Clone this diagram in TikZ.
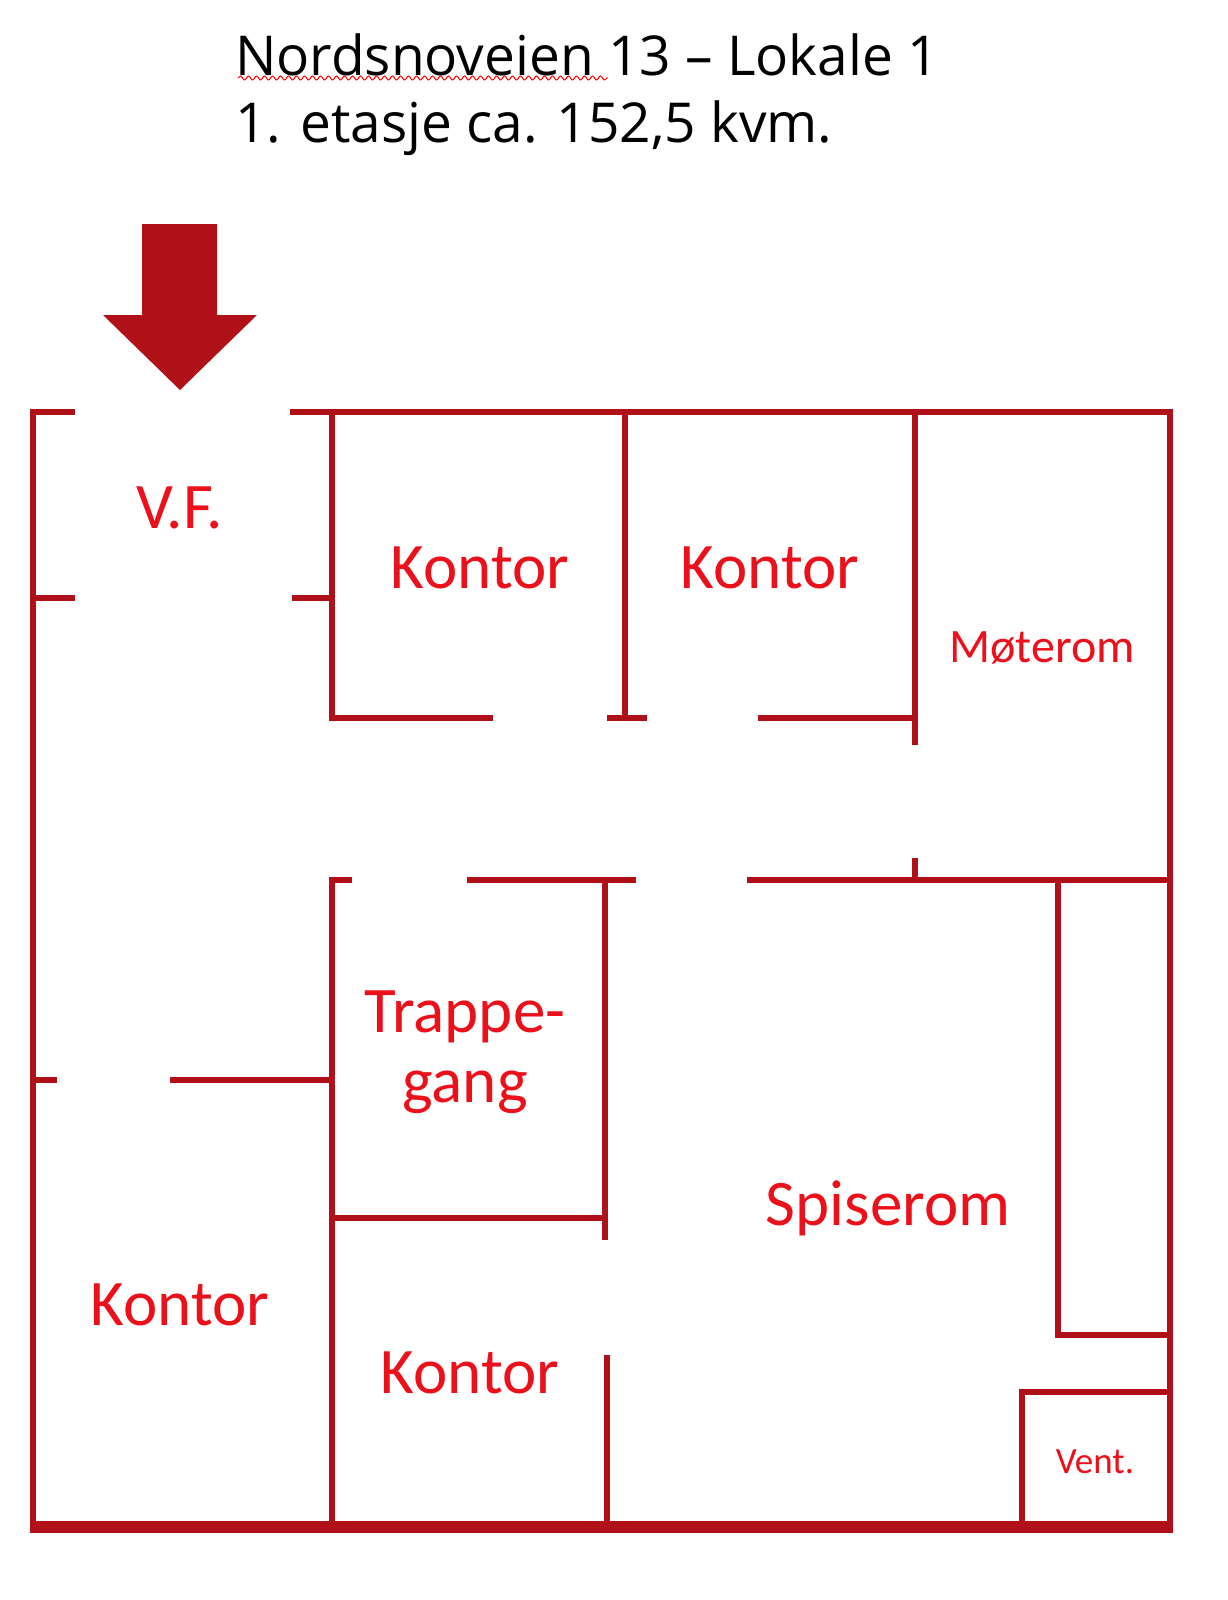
\documentclass[tikz,border=0pt]{standalone}
\usepackage{fontspec}
\setmainfont{Carlito}
\newfontfamily\titlefont{Open Sans}
\usetikzlibrary{decorations.pathmorphing}
\definecolor{wall}{RGB}{176,16,24}
\definecolor{lbl}{RGB}{235,16,26}
\begin{document}
\begin{tikzpicture}[x=0.5pt,y=-0.5pt,
  w/.style={draw=wall,line width=3pt},
  room/.style={text=lbl,font=\fontsize{32.5}{35}\selectfont,align=center},
  ttl/.style={anchor=west,font=\titlefont\fontsize{27.5}{30}\selectfont}]
\useasboundingbox (0,0) rectangle (1227,1600);
% title
\node[ttl] (t1) at (228,55) {Nordsnoveien 13 – Lokale 1};
\node[ttl] (t2) at (228,128) {1. etasje ca. 152,5 kvm.};
\draw[red,line width=0.5pt,decorate,decoration={snake,amplitude=1pt,segment length=4pt}] (238,78) -- (608,78);
% arrow
\fill[wall] (142,224) -- (217,224) -- (217,315) -- (257,315) -- (180,390) -- (103,315) -- (142,315) -- cycle;
% outer walls
\draw[w] (75,412) -- (33,412) -- (33,1530) -- (1170,1530) -- (1170,412) -- (290,412);
\draw[w] (33,1524) -- (1170,1524);
% V.F.
\draw[w] (33,598) -- (75,598);
\draw[w] (292,598) -- (332,598);
\draw[w] (332,412) -- (332,718) -- (493,718);
\draw[w] (607,718) -- (647,718);
\draw[w] (625,412) -- (625,718);
\draw[w] (758,718) -- (915,718);
\draw[w] (915,412) -- (915,745);
\draw[w] (915,858) -- (915,882);
\draw[w] (915,880) -- (1170,880);
% middle
\draw[w] (352,880) -- (332,880) -- (332,1530);
\draw[w] (467,880) -- (636,880);
\draw[w] (747,880) -- (915,880);
\draw[w] (605,880) -- (605,1240);
\draw[w] (332,1218) -- (605,1218);
\draw[w] (33,1080) -- (57,1080);
\draw[w] (170,1080) -- (332,1080);
\draw[w] (607,1355) -- (607,1530);
\draw[w] (1058,880) -- (1058,1335) -- (1170,1335);
\draw[w] (1022,1530) -- (1022,1392) -- (1170,1392);
% labels
\node[room] (vf) at (180,508) {V.F.};
\node[room] (k1) at (480,568) {Kontor};
\node[room] (k2) at (770,568) {Kontor};
\node[room,font=\fontsize{24}{26}\selectfont] (mr) at (1042,648) {Møterom};
\node[room] (tg) at (465,1052) {Trappe-\\gang};
\node[room] (sp) at (888,1208) {Spiserom};
\node[room] (k3) at (180,1305) {Kontor};
\node[room] (k4) at (470,1373) {Kontor};
\node[room,font=\fontsize{18.5}{20}\selectfont] (ve) at (1095,1462) {Vent.};
\end{tikzpicture}
\end{document}
